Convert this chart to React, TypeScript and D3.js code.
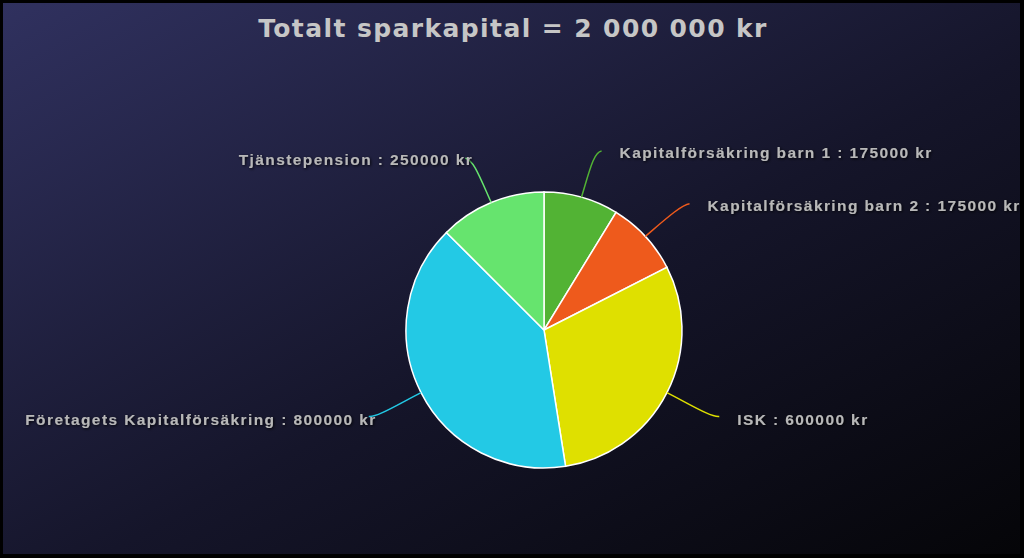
import React from "react";
import * as d3 from "d3";

const W = 1024;
const H = 558;

const title = "Totalt sparkapital = 2 000 000 kr";
const categories = [
  "Kapitalförsäkring barn 1",
  "Kapitalförsäkring barn 2",
  "ISK",
  "Företagets Kapitalförsäkring",
  "Tjänstepension",
];
const values = [175000, 175000, 600000, 800000, 250000];
const colors = ["#52b334", "#ee5a1c", "#dfe000", "#23c9e5", "#66e46e"];

export default function App() {
  const cx = 544;
  const cy = 330;
  const r = 138;
  const lrx = 190;
  const lry = 186;

  const pie = d3
    .pie<number>()
    .sort(null)
    .value((d) => d)(values);
  const arc = d3.arc<d3.PieArcDatum<number>>().innerRadius(0).outerRadius(r);

  return (
    <svg
      width={W}
      height={H}
      style={{ position: "fixed", left: 0, top: 0, display: "block" }}
    >
      <defs>
        <linearGradient id="bg" x1="0" y1="0" x2="1" y2="1">
          <stop offset="0%" stopColor="#30315f" />
          <stop offset="55%" stopColor="#15152a" />
          <stop offset="100%" stopColor="#050508" />
        </linearGradient>
        <filter id="shadow" x="-10%" y="-50%" width="120%" height="200%">
          <feDropShadow dx="1" dy="1" stdDeviation="1.5" floodColor="#000" floodOpacity="0.9" />
        </filter>
      </defs>
      <rect x={0} y={0} width={W} height={H} fill="#000" />
      <rect x={3} y={3} width={W - 7} height={H - 7} fill="url(#bg)" />
      <text
        x={513}
        y={37}
        textAnchor="middle"
        fontFamily="DejaVu Sans"
        fontWeight="bold"
        fontSize={25}
        letterSpacing={1.4}
        fill="#c6c6c6"
      >
        {title}
      </text>
      <g transform={`translate(${cx},${cy})`}>
        {pie.map((p, i) => (
          <path key={i} d={arc(p) || ""} fill={colors[i]} stroke="#fff" strokeWidth={1.5} />
        ))}
      </g>
      {pie.map((p, i) => {
        const mid = (p.startAngle + p.endAngle) / 2;
        const c = Math.cos(mid);
        const ax = cx + r * Math.sin(mid);
        const ay = cy - r * c;
        const bx = cx + lrx * Math.sin(mid);
        const by = cy - lry * c + (c < 0 ? 2 : 0);
        const right = Math.sin(mid) >= 0;
        const s = right ? 1 : -1;
        const ex = bx + s * 6;
        const ey = by;
        const path = `M${ax},${ay} C${ax + (bx - ax) * 0.55},${ay + (by - ay) * 0.55} ${bx - s * 2},${by + 1} ${ex},${ey}`;
        const label = `${categories[i]} : ${values[i]} kr`;
        return (
          <g key={i}>
            <path d={path} fill="none" stroke={colors[i]} strokeWidth={1.5} />
            <text
              x={right ? ex + 18 : ex + 8}
              y={ey + (c < 0 ? 9 : 7)}
              textAnchor={right ? "start" : "end"}
              fontFamily="Liberation Sans, Arial, sans-serif"
              fontWeight="bold"
              fontSize={15.5}
              letterSpacing={1.4}
              fill="#b8b8b8"
              filter="url(#shadow)"
            >
              {label}
            </text>
          </g>
        );
      })}
    </svg>
  );
}
